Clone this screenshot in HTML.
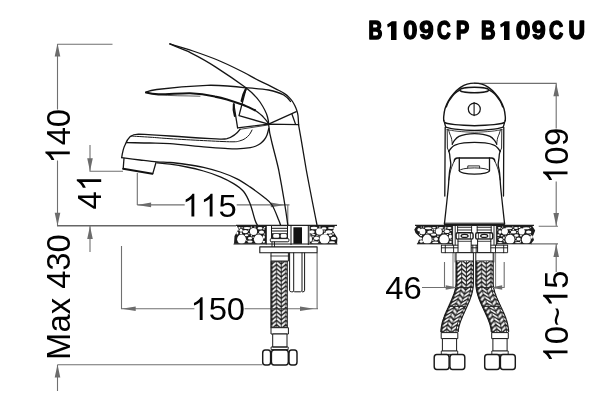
<!DOCTYPE html>
<html><head><meta charset="utf-8">
<style>
html,body{margin:0;padding:0;background:#fff;}
svg{display:block;position:absolute;left:0;top:0}
text{font-family:"Liberation Sans",sans-serif;fill:#000}
.d{stroke:#707070;stroke-width:1.1;fill:none}
.a{fill:#6c6c6c;stroke:none}
.k{stroke:#151515;stroke-width:1.3;fill:none;stroke-linecap:round;stroke-linejoin:round}
.k2{stroke:#111;stroke-width:2;fill:none;stroke-linecap:round;stroke-linejoin:round}
.w{stroke:#1a1a1a;stroke-width:1.2;fill:#fff;stroke-linejoin:round}
.t{stroke:#333;stroke-width:.8;fill:none}
.p{fill:#fff;stroke:none}
</style></head><body>
<svg width="600" height="418" viewBox="0 0 600 418">
<defs>
<mask id="mk" maskUnits="userSpaceOnUse" x="0" y="0" width="600" height="418"><rect width="600" height="418" fill="#fff"/></mask>
<path id="one" d="M763 0H583V1147Q518 1085 412.5 1023Q307 961 223 930V1104Q374 1175 487 1276Q600 1377 647 1472H763Z" transform="scale(0.015625 -0.015625)"/>
<pattern id="br" patternUnits="userSpaceOnUse" x="0" y="0" width="40" height="4.3"><rect width="40" height="4.3" fill="#1e1e1e"/><path d="M1.00 -4.70 L5.70 -8.60 L10.40 -4.70 L15.10 -8.60 L19.80 -4.70 L24.50 -8.60 L29.20 -4.70M1.00 -0.40 L5.70 -4.30 L10.40 -0.40 L15.10 -4.30 L19.80 -0.40 L24.50 -4.30 L29.20 -0.40M1.00 3.90 L5.70 0.00 L10.40 3.90 L15.10 0.00 L19.80 3.90 L24.50 0.00 L29.20 3.90M1.00 8.20 L5.70 4.30 L10.40 8.20 L15.10 4.30 L19.80 8.20 L24.50 4.30 L29.20 8.20M1.00 12.50 L5.70 8.60 L10.40 12.50 L15.10 8.60 L19.80 12.50 L24.50 8.60 L29.20 12.50" stroke="#fafafa" stroke-width="1.9" fill="none" stroke-linejoin="miter"/><path d="M1.00 -1V6M5.70 -1V6M10.40 -1V6M15.10 -1V6M19.80 -1V6M24.50 -1V6M29.20 -1V6M33.90 -1V6" stroke="#151515" stroke-width=".8" fill="none"/></pattern>
</defs>
<rect width="600" height="418" fill="#fff"/>

<g mask="url(#mk)"><text transform="translate(368.62 39.1) scale(0.700 0.92)" font-size="27.4" font-weight="bold" stroke="#000" stroke-width="1.8" stroke-linejoin="round">B</text><path d="M391.0 21.3h5.5v18.6h-5.5v-14.2l-3.2 1.7l-.7-2.8l4.8-3.3z" fill="#000"/><text transform="translate(403.19 39.1) scale(0.929 0.92)" font-size="27.4" font-weight="bold" stroke="#000" stroke-width="1.4" stroke-linejoin="round">0</text><text transform="translate(419.30 39.1) scale(0.949 0.92)" font-size="27.4" font-weight="bold" stroke="#000" stroke-width="1.4" stroke-linejoin="round">9</text><text transform="translate(437.02 39.1) scale(0.692 0.92)" font-size="27.4" font-weight="bold" stroke="#000" stroke-width="1.6" stroke-linejoin="round">C</text><text transform="translate(456.08 39.1) scale(0.722 0.92)" font-size="27.4" font-weight="bold" stroke="#000" stroke-width="1.8" stroke-linejoin="round">P</text><text transform="translate(481.06 39.1) scale(0.730 0.92)" font-size="27.4" font-weight="bold" stroke="#000" stroke-width="1.8" stroke-linejoin="round">B</text><path d="M504.0 21.3h5.5v18.6h-5.5v-14.2l-3.2 1.7l-.7-2.8l4.8-3.3z" fill="#000"/><text transform="translate(515.65 39.1) scale(0.967 0.92)" font-size="27.4" font-weight="bold" stroke="#000" stroke-width="1.4" stroke-linejoin="round">0</text><text transform="translate(531.83 39.1) scale(0.912 0.92)" font-size="27.4" font-weight="bold" stroke="#000" stroke-width="1.4" stroke-linejoin="round">9</text><text transform="translate(548.99 39.1) scale(0.720 0.92)" font-size="27.4" font-weight="bold" stroke="#000" stroke-width="1.6" stroke-linejoin="round">C</text><text transform="translate(568.53 39.1) scale(0.832 0.92)" font-size="27.4" font-weight="bold" stroke="#000" stroke-width="1.8" stroke-linejoin="round">U</text></g>
<g id="dims">
<path class="d" d="M57.5 44.2H112.5M57.5 44.2V109.5M57.5 160.5V225.8"/>
<path class="d" d="M90 145V171.3H123M137.3 173V204.9M137.3 204.9H184.7M236.7 204.9H289.5M287.8 204.9V225"/>
<path class="d" d="M90 226V252M121.5 246V308.8H194.4M244.5 308.8H318M317.1 253V308.8"/>
<path class="d" d="M57.5 364.8H262.5M57.5 364.8V391"/>
<path class="d" d="M474 83.4H556.2V128.5M556.2 181.5V226.3M538.7 226.3H558M531 243.9H558M556.2 244V272"/>
<path class="a" d="M57.5 43.6l-2.8 13.0h5.6zM57.5 225.8l-2.8 -13.0h5.6zM90.0 171.3l-2.8 -13.0h5.6zM137.1 204.9l14.0 -2.3v4.6zM284.8 204.9l-14.0 -2.3v4.6zM90.0 226.0l-2.8 13.0h5.6zM121.7 308.8l14.0 -2.3v4.6zM314.0 308.8l-14.0 -2.3v4.6zM57.5 364.6l-2.8 13.0h5.6zM556.2 83.2l-2.8 13.0h5.6zM556.2 226.1l-2.8 -13.0h5.6zM556.2 244.1l-2.8 13.0h5.6z"/>
</g>
<g id="side"><path d="M57 225.7H236" stroke="#666" stroke-width="1.5" fill="none"/><path d="M236 225.3H337" stroke="#222" stroke-width="1.3" fill="none"/><path class="k" d="M169.8 43.9C173.7 45.1 185.1 48.3 193.0 51.0C200.9 53.7 209.7 56.8 217.5 60.0C225.3 63.2 233.2 67.1 240.0 70.5C246.8 73.9 253.5 77.8 258.5 80.3C263.5 82.8 266.6 84.1 270.0 85.8C273.4 87.5 276.2 88.9 278.6 90.2C281.0 91.5 282.7 92.4 284.5 93.6C286.3 94.8 288.0 96.3 289.3 97.6C290.6 98.9 291.6 100.1 292.5 101.5C293.4 102.9 294.2 104.3 294.9 105.8C295.6 107.3 296.3 108.9 296.8 110.5C297.3 112.1 297.7 113.1 298.0 115.5C298.3 117.9 298.5 123.4 298.6 125.0"/><path class="k" d="M169.8 43.9C180 48.5 186 50.5 190.3 52.6C200 57.5 208 62 215.4 66.9C228 75 238 82 246 87.8C252 92.5 256.5 97 260 102C264 108 266.5 113 267.5 117C268.3 120 268.6 122 268.6 123.6"/><path class="k" d="M145.9 92C150 90.6 153 90 156.8 89.5C172 87.4 190 85.8 207 85.3C222 85 236 86.5 246 87.8C255 88.5 262 89 268.6 90C275 91.3 280 93 283.7 95C287 97 289 99 290.5 101.5"/><path class="k2" d="M146 92.6C150 93.6 154 94.2 158.4 94.4C170 94.3 180 93.2 190 93.3C200 93.6 208 95 215 96.6C220 97.6 224 98.6 227 99.4C233 101.3 238 103 243.5 105C248 107 252 108.7 255 110.3" style="stroke-width:2.1"/><path class="k" d="M255 110.3C259 113 262 115.5 263.6 117.4C266 120 267.6 122 268.6 123.6"/><path class="k" d="M158 94.5C170 96.2 185 95.6 200 96.2" style="stroke-width:.7"/><path class="k" d="M246.2 88L239 115.6L268.6 124.2L296.3 111.7"/><path class="k2" d="M245.6 89.5C243.6 93 242.4 97 241.6 101" style="stroke-width:2.2"/><path class="k2" d="M233.8 104.2C233.2 108 233.6 112 234.8 116" style="stroke-width:2"/><path class="k" d="M233.8 104L237.6 127.8"/><path class="k" d="M237.6 127.8L268.6 124.2L298.6 124.6"/><path class="k" d="M240 129.3L268 125" style="stroke-width:.8"/><path class="k" d="M292 114.2L295.6 124.4"/><path class="k" d="M298.6 125C301.3 140 304 156 306.3 170C310 190 314 210 317 225"/><path class="k" d="M268.6 124.3C269 130 270 136 272 143C275 155 277.5 164 278.7 170C281 182 284.5 200 287.8 225"/><path class="k" d="M121.7 157.7C122.5 152 123.5 148 125 145C126.5 141 128 138.5 130 136.7C132.5 134.8 135 134.2 138.4 134.2C150 134.6 160 135.3 170 136C190 137.5 205 138.3 220 139.2C224 139.3 226 139 227 138.7C232 137 237 133.5 240 129.3"/><path class="k" d="M131.0 136.0C134.2 136.2 143.5 136.8 150.0 137.2C156.5 137.6 161.1 138.1 170.0 138.7C178.9 139.3 193.2 140.1 203.5 140.6C213.8 141.1 225.9 141.8 232.0 141.8C238.1 141.8 237.8 141.4 240.0 140.8C242.2 140.2 243.8 139.5 245.4 138.4C247.0 137.3 248.4 135.9 249.5 134.5C250.6 133.1 251.6 130.8 252.0 130.0" style="stroke-width:1"/><path class="k" d="M126.7 142.6C130.6 142.7 142.8 142.8 150.0 143.0C157.2 143.2 161.1 143.1 170.0 143.7C178.9 144.3 194.3 146.0 203.5 146.8C212.7 147.6 219.4 148.1 225.0 148.4C230.6 148.7 232.8 148.9 237.0 148.8C241.2 148.7 247.2 148.1 250.4 147.6C253.6 147.1 254.3 146.7 256.0 146.0C257.7 145.3 259.1 144.6 260.5 143.5C261.9 142.4 263.4 140.9 264.5 139.5C265.6 138.1 266.3 136.8 267.0 135.0C267.7 133.2 268.5 129.5 268.8 128.4"/><path class="k" d="M121.7 157.7C124.8 158.1 134.2 159.3 140.0 160.0C145.8 160.7 151.8 161.5 156.8 161.9C161.8 162.3 165.0 162.1 170.0 162.5C175.0 162.9 181.2 163.7 186.8 164.5C192.4 165.3 197.9 166.1 203.5 167.3C209.1 168.6 214.7 170.1 220.3 172.0C225.9 173.9 232.1 176.3 237.0 178.8C241.9 181.3 245.6 183.9 250.0 186.9C254.4 189.9 260.0 194.0 263.7 197.0C267.4 200.0 269.5 201.2 272.0 205.0C274.5 208.8 277.3 216.7 278.7 220.0C280.1 223.3 280.2 224.2 280.5 225.0"/><path class="k" d="M157.0 162.8C159.2 163.0 165.0 163.5 170.0 164.2C175.0 164.9 181.2 165.9 186.8 167.0C192.4 168.1 197.9 169.4 203.5 171.0C209.1 172.6 215.3 174.7 220.3 176.8C225.3 178.9 229.7 181.2 233.6 183.6C237.5 186.0 240.9 188.2 243.6 191.5C246.3 194.8 248.1 198.8 250.0 203.6C251.9 208.3 253.8 216.4 255.0 220.0C256.2 223.6 256.9 224.2 257.3 225.0"/><path class="k" d="M124 158.3L123.2 168.8M156 162.5L152.8 173.6"/><path class="k2" d="M123.2 168.8L152.4 173.8" style="stroke-width:1.9"/><path d="M236.5 225.5L238.5 229L234.5 236L234 243.8H266V225.5Z" fill="#1c1c1c"/><ellipse class="p" cx="241.5" cy="239.2" rx="4.4" ry="4.6"/><ellipse class="p" cx="258.5" cy="239.2" rx="4.6" ry="4.6"/><ellipse class="p" cx="253.5" cy="231.4" rx="3.6" ry="3.5"/><ellipse class="p" cx="245.3" cy="231.6" rx="2.8" ry="1.7"/><ellipse class="p" cx="241.0" cy="230.3" rx="1.5" ry="1.5"/><ellipse class="p" cx="247.0" cy="228.0" rx="3.4" ry="1.0"/><ellipse class="p" cx="260.0" cy="228.3" rx="2.5" ry="1.2"/><ellipse class="p" cx="261.5" cy="232.2" rx="2.6" ry="1.6"/><ellipse class="p" cx="250.0" cy="238.3" rx="2.1" ry="1.3"/><ellipse class="p" cx="250.0" cy="241.6" rx="2.6" ry="1.2"/><ellipse class="p" cx="239.5" cy="227.8" rx="1.1" ry="0.9"/><ellipse class="p" cx="263.8" cy="237.0" rx="1.1" ry="1.7"/><ellipse class="p" cx="237.3" cy="233.0" rx="1.0" ry="1.5"/><ellipse class="p" cx="246.5" cy="235.2" rx="1.8" ry="1.0"/><ellipse class="p" cx="263.8" cy="241.8" rx="1.3" ry="1.1"/><ellipse class="p" cx="263.9" cy="228.9" rx="1.0" ry="0.6"/><ellipse class="p" cx="241.0" cy="233.2" rx="1.1" ry="0.9"/><ellipse class="p" cx="248.9" cy="233.7" rx="0.7" ry="0.7"/><ellipse class="p" cx="248.4" cy="230.0" rx="0.6" ry="0.5"/><ellipse class="p" cx="264.6" cy="227.4" rx="0.8" ry="0.5"/><ellipse class="p" cx="251.4" cy="235.7" rx="0.6" ry="0.7"/><ellipse class="p" cx="238.2" cy="229.9" rx="0.6" ry="0.7"/><ellipse class="p" cx="264.5" cy="234.0" rx="0.8" ry="0.5"/><ellipse class="p" cx="255.0" cy="227.1" rx="0.9" ry="0.5"/><ellipse class="p" cx="253.1" cy="237.2" rx="0.6" ry="0.7"/><ellipse class="p" cx="246.8" cy="240.3" rx="0.6" ry="0.5"/><ellipse class="p" cx="242.1" cy="227.8" rx="0.9" ry="0.5"/><ellipse class="p" cx="251.4" cy="227.1" rx="0.8" ry="0.6"/><ellipse class="p" cx="258.2" cy="233.4" rx="0.5" ry="0.5"/><path d="M309.5 225.5H335L333 231L337.5 238L337 243.8H309.5Z" fill="#1c1c1c"/><ellipse class="p" cx="324.5" cy="239.0" rx="5.0" ry="4.8"/><ellipse class="p" cx="319.5" cy="231.5" rx="3.4" ry="3.2"/><ellipse class="p" cx="314.0" cy="228.0" rx="3.4" ry="1.3"/><ellipse class="p" cx="312.0" cy="232.0" rx="2.7" ry="1.7"/><ellipse class="p" cx="316.5" cy="238.3" rx="2.7" ry="1.7"/><ellipse class="p" cx="310.8" cy="239.0" rx="1.2" ry="3.1"/><ellipse class="p" cx="315.0" cy="242.4" rx="3.4" ry="1.1"/><ellipse class="p" cx="324.0" cy="228.4" rx="2.5" ry="1.2"/><ellipse class="p" cx="329.0" cy="232.0" rx="3.4" ry="1.7"/><ellipse class="p" cx="331.0" cy="228.0" rx="3.1" ry="1.1"/><ellipse class="p" cx="333.5" cy="238.4" rx="2.7" ry="1.7"/><ellipse class="p" cx="332.0" cy="242.3" rx="3.1" ry="1.0"/><ellipse class="p" cx="325.5" cy="233.5" rx="1.7" ry="1.0"/><ellipse class="p" cx="330.5" cy="235.3" rx="1.7" ry="1.0"/><ellipse class="p" cx="313.0" cy="236.7" rx="0.8" ry="0.7"/><ellipse class="p" cx="333.0" cy="233.9" rx="0.8" ry="0.9"/><ellipse class="p" cx="313.6" cy="234.7" rx="1.7" ry="0.6"/><ellipse class="p" cx="324.2" cy="231.0" rx="0.7" ry="0.8"/><ellipse class="p" cx="310.8" cy="234.9" rx="0.6" ry="0.5"/><ellipse class="p" cx="317.1" cy="235.2" rx="0.8" ry="0.5"/><ellipse class="p" cx="319.9" cy="227.0" rx="1.0" ry="0.5"/><ellipse class="p" cx="333.2" cy="230.7" rx="0.8" ry="0.5"/><ellipse class="p" cx="313.4" cy="240.2" rx="0.9" ry="0.6"/><ellipse class="p" cx="318.7" cy="241.2" rx="0.5" ry="0.5"/><ellipse class="p" cx="319.0" cy="236.0" rx="0.5" ry="0.5"/><path class="k" d="M234 244H337" style="stroke-width:1.1"/><path class="k" d="M266.3 225.5V244M291 225.5V244.5M308.3 225.5V244.5" style="stroke-width:1"/><rect x="293.4" y="227.3" width="8.6" height="16.5" fill="#111"/><rect class="w" x="271.5" y="225.6" width="16" height="13" style="stroke-width:1"/><path class="k" d="M271.5 228.3H287.5M271.5 231H287.5" style="stroke-width:1"/><rect x="271.5" y="233.2" width="16" height="5.4" fill="#222"/><rect x="273.2" y="234.1" width="6" height="3.6" rx="1.3" fill="#fff"/><rect x="280.7" y="234.1" width="6" height="3.6" rx="1.3" fill="#fff"/><rect class="w" x="270.3" y="238.6" width="18.6" height="3.2" rx="1" style="stroke-width:1"/><path class="k" d="M272 242V247M274.5 242V247" style="stroke-width:.9"/><rect class="w" x="259.8" y="246.9" width="57.3" height="5.9" style="stroke-width:1.1"/><path class="k" d="M289.6 253V290.5Q289.8 291.8 291.5 291.8H293Q293.8 290.3 294.6 291.8H300.5Q301.3 290.3 302.1 291.8H303Q304.6 291.8 304.6 290.3V253M293.7 253V290.5M302 253V290.5" style="stroke-width:1"/><rect class="w" x="271" y="252.8" width="17.4" height="8.3" style="stroke-width:1"/><path class="k" d="M271 256H288.4" style="stroke-width:.8"/><g transform="translate(270.8 0)"><rect x="0" y="261.3" width="16.6" height="66.4" fill="url(#br)" stroke="#222" stroke-width="0.8"/></g><path d="M270.8 308.8H287.4" stroke="#333" stroke-width="1" fill="none"/><rect class="w" x="271" y="327.7" width="17.4" height="6.3" style="stroke-width:1"/><rect class="w" x="272.7" y="334" width="14.3" height="13" style="stroke-width:1"/><path class="k" d="M271.5 347H288.2V349.6H271.5Z" style="stroke-width:.9"/><rect class="w" x="262.7" y="350.0" width="7.9" height="14.9" rx="2.6" ry="3" style="stroke-width:1.45"/><rect class="w" x="271.4" y="350.0" width="16.9" height="14.9" rx="2.6" ry="3" style="stroke-width:1.45"/><rect class="w" x="289.0" y="350.0" width="8.0" height="14.9" rx="2.6" ry="3" style="stroke-width:1.45"/></g><g id="front"><path class="k" d="M443.8 120.5C443.8 119.9 443.5 118.9 443.7 116.9C443.9 115.0 444.2 111.5 445.0 108.8C445.8 106.1 446.9 103.4 448.4 100.8C449.9 98.2 451.8 95.6 453.8 93.4C455.8 91.2 458.3 89.0 460.5 87.4C462.7 85.9 464.9 84.8 467.2 84.1C469.5 83.4 472.1 83.1 474.5 83.1C476.9 83.1 479.5 83.4 481.8 84.1C484.1 84.8 486.3 85.9 488.5 87.4C490.7 89.0 493.2 91.2 495.2 93.4C497.2 95.6 499.1 98.2 500.6 100.8C502.1 103.4 503.2 106.1 504.0 108.8C504.8 111.5 505.1 115.0 505.3 116.9C505.5 118.9 505.2 119.9 505.2 120.5" style="stroke-width:1.4"/><path class="k" d="M443.8 120.5C443.9 120.8 444.0 121.9 444.6 122.4C445.2 122.9 445.8 123.1 447.5 123.5C449.2 123.9 452.2 124.3 455.0 124.6C457.8 124.9 460.8 125.1 464.0 125.3C467.2 125.5 471.0 125.7 474.5 125.7C478.0 125.7 481.8 125.5 485.0 125.3C488.2 125.1 491.2 124.9 494.0 124.6C496.8 124.3 499.8 123.9 501.5 123.5C503.2 123.1 503.8 122.9 504.4 122.4C505.0 121.9 505.1 120.8 505.2 120.5" style="stroke-width:1.4"/><path class="k" d="M446.4 106.8C446.7 106.0 447.6 103.5 448.4 102.0C449.2 100.5 450.1 99.4 451.0 98.1C451.9 96.8 453.0 95.4 454.0 94.3C455.0 93.2 456.1 92.3 457.1 91.6C458.1 90.9 459.5 90.3 460.0 90.0"/><path class="k" d="M502.6 106.8C502.3 106.0 501.4 103.5 500.6 102.0C499.8 100.5 498.9 99.4 498.0 98.1C497.1 96.8 496.0 95.4 495.0 94.3C494.0 93.2 492.9 92.3 491.9 91.6C490.9 90.9 489.5 90.3 489.0 90.0"/><ellipse class="k" cx="474.3" cy="90" rx="14.5" ry="2.8" style="stroke-width:1.4"/><circle class="k" cx="474.3" cy="109.1" r="6" style="stroke-width:1.25"/><path class="k" d="M474.1 102.6V115.6" style="stroke-width:1.1"/><path class="k" d="M444.6 123L445.7 127.2M504.4 123L503.3 127.2"/><path class="k" d="M446.0 127.2C447.5 127.5 450.2 128.7 455.0 129.2C459.8 129.7 468.0 130.4 474.5 130.4C481.0 130.4 489.2 129.7 494.0 129.2C498.8 128.7 501.5 127.5 503.0 127.2"/><path class="k" d="M447.0 129.6C448.8 129.9 453.4 130.9 458.0 131.3C462.6 131.7 469.0 132.2 474.5 132.2C480.0 132.2 486.4 131.7 491.0 131.3C495.6 130.9 500.2 129.9 502.0 129.6" style="stroke-width:.8"/><path class="k" d="M445.2 127.5L444.8 196M503.8 127.5L503.5 196"/><path class="k" d="M447.2 129.5L447.4 148L448.8 151.3M501.8 129.5L501.6 148L500.2 151.3" style="stroke-width:.9"/><path class="k" d="M448.6 129.8C448.8 130.5 449.3 132.6 449.8 134.0C450.3 135.4 451.0 136.3 451.4 138.0C451.8 139.7 452.2 143.2 452.4 144.2" style="stroke-width:.9"/><path class="k" d="M500.4 129.8C500.2 130.5 499.7 132.6 499.2 134.0C498.7 135.4 498.0 136.3 497.6 138.0C497.2 139.7 496.8 143.2 496.6 144.2" style="stroke-width:.9"/><path class="k" d="M452.2 144.2C452.6 143.5 453.4 141.6 454.5 140.3C455.6 139.0 457.1 137.4 459.0 136.4C460.9 135.4 463.4 134.8 466.0 134.3C468.6 133.9 471.7 133.7 474.5 133.7C477.3 133.7 480.4 133.9 483.0 134.3C485.6 134.8 488.1 135.4 490.0 136.4C491.9 137.4 493.4 139.0 494.5 140.3C495.6 141.6 496.4 143.5 496.8 144.2"/><path class="k" d="M448.8 151.3C449.2 150.8 450.3 149.0 451.3 148.0C452.3 147.0 452.9 145.9 455.0 145.1C457.1 144.2 460.8 143.3 464.0 142.9C467.2 142.5 471.0 142.4 474.5 142.4C478.0 142.4 481.8 142.5 485.0 142.9C488.2 143.3 491.9 144.2 494.0 145.1C496.1 145.9 496.7 147.0 497.7 148.0C498.7 149.0 499.8 150.8 500.2 151.3"/><path class="k" d="M448.8 151.3C448.9 151.8 449.4 152.9 449.6 154.0C449.8 155.1 449.8 156.2 450.0 158.0C450.2 159.8 450.9 162.7 450.8 165.0C450.7 167.3 449.9 168.7 449.5 172.0C449.1 175.3 448.9 180.0 448.5 185.0C448.1 190.0 447.4 196.4 446.8 202.0C446.2 207.6 445.4 214.9 445.0 218.6C444.6 222.3 444.5 223.1 444.4 224.0"/><path class="k" d="M500.2 151.3C500.1 151.8 499.6 152.9 499.4 154.0C499.2 155.1 499.2 156.2 499.0 158.0C498.8 159.8 498.1 162.7 498.2 165.0C498.3 167.3 499.1 168.7 499.5 172.0C499.9 175.3 500.1 180.0 500.5 185.0C500.9 190.0 501.6 196.4 502.2 202.0C502.8 207.6 503.6 214.9 504.0 218.6C504.4 222.3 504.5 223.1 504.6 224.0"/><path class="k" d="M454.2 161Q454.4 158.1 457.5 158H491.5Q494.6 158.1 494.8 161"/><path class="k" d="M459.3 158V170.5M489.5 158V170.5"/><path class="k" d="M459.3 170.5A15.1 3.6 0 0 0 489.5 170.5"/><path class="k" d="M459.3 170.5A15.1 2.6 0 0 1 489.5 170.5" style="stroke-width:.9"/><path class="k" d="M467.8 168V165.9H479.6V168" style="stroke-width:.9"/><path class="k" d="M455.0 159.4C454.6 160.3 453.2 163.1 452.5 165.0C451.8 166.9 451.1 168.5 450.5 171.0C449.9 173.5 449.1 178.5 448.8 180.0" style="stroke-width:.9"/><path class="k" d="M494.0 159.4C494.4 160.3 495.8 163.1 496.5 165.0C497.2 166.9 497.9 168.5 498.5 171.0C499.1 173.5 499.9 178.5 500.2 180.0" style="stroke-width:.9"/><path class="k" d="M444.3 223.2H504.7" style="stroke-width:.9"/><path d="M415 225.3H534" stroke="#222" stroke-width="1.3" fill="none"/><path d="M444 224.6H504.8" stroke="#1a1a1a" stroke-width="1.8" fill="none"/><path d="M417 225.5L414.3 229.5L415.5 233L420 237.2L417.3 243.8H452.5V225.5Z" fill="#1c1c1c"/><ellipse class="p" cx="427.2" cy="239.4" rx="4.5" ry="4.8"/><ellipse class="p" cx="444.1" cy="239.4" rx="4.7" ry="4.8"/><ellipse class="p" cx="422.5" cy="231.4" rx="2.9" ry="2.9"/><ellipse class="p" cx="438.8" cy="231.4" rx="3.1" ry="3.1"/><ellipse class="p" cx="430.0" cy="232.0" rx="2.8" ry="1.5"/><ellipse class="p" cx="433.6" cy="234.6" rx="2.6" ry="1.2"/><ellipse class="p" cx="436.0" cy="239.0" rx="2.0" ry="1.7"/><ellipse class="p" cx="447.0" cy="231.4" rx="2.7" ry="1.6"/><ellipse class="p" cx="449.3" cy="228.0" rx="2.2" ry="1.0"/><ellipse class="p" cx="428.3" cy="228.3" rx="3.4" ry="1.0"/><ellipse class="p" cx="419.0" cy="229.7" rx="1.6" ry="1.6"/><ellipse class="p" cx="450.3" cy="236.7" rx="1.5" ry="2.1"/><ellipse class="p" cx="435.3" cy="242.4" rx="3.1" ry="1.0"/><ellipse class="p" cx="421.3" cy="241.5" rx="1.7" ry="1.3"/><ellipse class="p" cx="441.0" cy="227.8" rx="2.5" ry="0.9"/><ellipse class="p" cx="450.5" cy="242.0" rx="1.3" ry="1.1"/><ellipse class="p" cx="420.4" cy="238.5" rx="1.7" ry="1.2"/><ellipse class="p" cx="434.5" cy="229.7" rx="1.1" ry="0.7"/><ellipse class="p" cx="445.4" cy="228.9" rx="1.0" ry="0.7"/><ellipse class="p" cx="450.2" cy="233.3" rx="1.0" ry="0.6"/><ellipse class="p" cx="437.9" cy="236.3" rx="0.8" ry="0.8"/><ellipse class="p" cx="443.3" cy="230.0" rx="0.9" ry="0.8"/><ellipse class="p" cx="421.0" cy="235.5" rx="1.2" ry="0.7"/><ellipse class="p" cx="434.0" cy="227.7" rx="1.9" ry="0.7"/><ellipse class="p" cx="443.2" cy="232.8" rx="0.7" ry="0.7"/><ellipse class="p" cx="421.3" cy="227.0" rx="0.6" ry="0.5"/><ellipse class="p" cx="432.9" cy="240.2" rx="0.7" ry="0.7"/><ellipse class="p" cx="419.5" cy="234.2" rx="0.5" ry="0.7"/><ellipse class="p" cx="426.9" cy="233.5" rx="0.6" ry="0.5"/><ellipse class="p" cx="423.6" cy="227.0" rx="0.8" ry="0.5"/><ellipse class="p" cx="433.0" cy="238.3" rx="0.5" ry="0.5"/><ellipse class="p" cx="432.4" cy="229.8" rx="0.5" ry="0.8"/><ellipse class="p" cx="434.6" cy="231.7" rx="0.5" ry="0.6"/><ellipse class="p" cx="451.0" cy="230.3" rx="0.8" ry="0.6"/><ellipse class="p" cx="447.5" cy="234.6" rx="0.9" ry="0.5"/><ellipse class="p" cx="437.4" cy="227.0" rx="0.5" ry="0.5"/><ellipse class="p" cx="445.7" cy="227.2" rx="1.0" ry="0.5"/><ellipse class="p" cx="451.0" cy="239.8" rx="0.7" ry="0.5"/><path d="M496.6 225.5H532L535.2 230.5L532.8 236.5L534 240L531 243.8H496.6Z" fill="#1c1c1c"/><ellipse class="p" cx="510.0" cy="239.4" rx="4.5" ry="4.7"/><ellipse class="p" cx="526.3" cy="239.4" rx="4.5" ry="4.7"/><ellipse class="p" cx="504.8" cy="231.4" rx="3.1" ry="3.1"/><ellipse class="p" cx="521.7" cy="231.4" rx="3.1" ry="3.1"/><ellipse class="p" cx="513.5" cy="232.0" rx="2.8" ry="1.5"/><ellipse class="p" cx="516.4" cy="235.5" rx="2.2" ry="1.2"/><ellipse class="p" cx="500.0" cy="232.0" rx="1.6" ry="1.7"/><ellipse class="p" cx="500.7" cy="239.6" rx="2.1" ry="1.7"/><ellipse class="p" cx="518.6" cy="239.0" rx="2.1" ry="1.5"/><ellipse class="p" cx="528.7" cy="232.0" rx="2.7" ry="1.6"/><ellipse class="p" cx="508.8" cy="228.3" rx="3.4" ry="1.0"/><ellipse class="p" cx="526.3" cy="228.3" rx="3.4" ry="1.0"/><ellipse class="p" cx="500.0" cy="242.8" rx="2.6" ry="0.9"/><ellipse class="p" cx="518.0" cy="242.8" rx="3.1" ry="0.9"/><ellipse class="p" cx="516.0" cy="228.0" rx="2.0" ry="0.9"/><ellipse class="p" cx="531.5" cy="237.0" rx="1.3" ry="1.8"/><ellipse class="p" cx="499.3" cy="227.8" rx="1.5" ry="0.9"/><ellipse class="p" cx="503.9" cy="237.7" rx="0.8" ry="1.3"/><ellipse class="p" cx="498.5" cy="235.1" rx="1.2" ry="0.9"/><ellipse class="p" cx="520.9" cy="235.8" rx="1.1" ry="0.7"/><ellipse class="p" cx="501.8" cy="235.8" rx="1.1" ry="0.8"/><ellipse class="p" cx="519.4" cy="227.4" rx="1.0" ry="0.6"/><ellipse class="p" cx="504.3" cy="241.8" rx="0.9" ry="0.5"/><ellipse class="p" cx="517.2" cy="230.2" rx="0.9" ry="0.5"/><ellipse class="p" cx="508.7" cy="233.5" rx="0.6" ry="0.6"/><ellipse class="p" cx="502.6" cy="227.1" rx="0.7" ry="0.5"/><ellipse class="p" cx="513.3" cy="229.4" rx="0.7" ry="0.6"/><ellipse class="p" cx="516.0" cy="240.7" rx="0.6" ry="0.8"/><ellipse class="p" cx="505.6" cy="235.9" rx="0.5" ry="0.5"/><ellipse class="p" cx="530.7" cy="227.6" rx="0.5" ry="0.7"/><ellipse class="p" cx="512.8" cy="227.0" rx="0.7" ry="0.5"/><ellipse class="p" cx="498.1" cy="237.7" rx="0.6" ry="0.5"/><ellipse class="p" cx="510.2" cy="230.6" rx="0.6" ry="0.5"/><ellipse class="p" cx="515.6" cy="237.9" rx="0.5" ry="0.6"/><ellipse class="p" cx="503.8" cy="240.3" rx="0.6" ry="0.5"/><ellipse class="p" cx="501.6" cy="228.6" rx="0.5" ry="0.6"/><ellipse class="p" cx="517.4" cy="232.7" rx="0.6" ry="0.5"/><ellipse class="p" cx="510.8" cy="233.8" rx="0.5" ry="0.5"/><ellipse class="p" cx="497.9" cy="229.9" rx="0.5" ry="0.7"/><ellipse class="p" cx="530.2" cy="234.4" rx="0.6" ry="0.5"/><ellipse class="p" cx="520.6" cy="241.2" rx="0.6" ry="0.7"/><path class="k" d="M417.3 243.8H452.5M496.6 243.8H531" style="stroke-width:1"/><path class="k" d="M452.6 225.5V245M455.2 225.5V245M494 225.5V245M496.4 225.5V245" style="stroke-width:.9"/><rect class="w" x="457.6" y="225.6" width="14.0" height="7" style="stroke-width:.9"/><path class="k" d="M457.6 227.3h14.0M457.6 230h14.0" style="stroke-width:.9"/><rect class="w" x="456.1" y="232.8" width="17.0" height="6.3" rx="1.6" style="stroke-width:1.4"/><ellipse cx="464.6" cy="235.9" rx="3.5" ry="1.5" fill="#fff" stroke="#1a1a1a" stroke-width="1.25"/><path class="k" d="M458.8 232.8v6.3M470.4 232.8v6.3" style="stroke-width:.8"/><rect class="w" x="458.0" y="239.1" width="13.2" height="13.6" style="stroke-width:1"/><path class="k" d="M458.0 241.3h13.2" style="stroke-width:.8"/><rect class="w" x="477.2" y="225.6" width="14.0" height="7" style="stroke-width:.9"/><path class="k" d="M477.2 227.3h14.0M477.2 230h14.0" style="stroke-width:.9"/><rect class="w" x="475.7" y="232.8" width="17.0" height="6.3" rx="1.6" style="stroke-width:1.4"/><ellipse cx="484.2" cy="235.9" rx="3.5" ry="1.5" fill="#fff" stroke="#1a1a1a" stroke-width="1.25"/><path class="k" d="M478.4 232.8v6.3M490.0 232.8v6.3" style="stroke-width:.8"/><rect class="w" x="477.6" y="239.1" width="13.2" height="13.6" style="stroke-width:1"/><path class="k" d="M477.6 241.3h13.2" style="stroke-width:.8"/><path class="k" d="M441.4 245.2H457.8M471.5 245.2H477.5M491 245.2H507.6M441.4 245.2V252.7H507.6V245.2M441.4 247.8H457.8M471.5 247.8H477.5M491 247.8H507.6M445.3 245.2V252.7M453.6 245.2V252.7M472.8 245.2V252.7M476.2 245.2V252.7M495.5 245.2V252.7M503.7 245.2V252.7" style="stroke-width:.9"/><path class="k" d="M453 252.7V288M455 252.7V262M494 252.7V262M495.6 252.7V288" style="stroke-width:.7;stroke:#444"/><rect class="w" x="456.0" y="252.7" width="17.4" height="8.3" style="stroke-width:1"/><rect x="0" y="261.0" width="17.40" height="22.3" fill="url(#br)" transform="translate(456.00 0)"/><rect x="0" y="283.0" width="17.40" height="1.25" fill="url(#br)" transform="translate(455.99 0) scale(1.000 1)"/><rect x="0" y="284.0" width="17.40" height="1.25" fill="url(#br)" transform="translate(455.95 0) scale(1.001 1)"/><rect x="0" y="285.0" width="17.40" height="1.25" fill="url(#br)" transform="translate(455.87 0) scale(1.002 1)"/><rect x="0" y="286.0" width="17.40" height="1.25" fill="url(#br)" transform="translate(455.75 0) scale(1.004 1)"/><rect x="0" y="287.0" width="17.40" height="1.25" fill="url(#br)" transform="translate(455.59 0) scale(1.007 1)"/><rect x="0" y="288.0" width="17.40" height="1.25" fill="url(#br)" transform="translate(455.41 0) scale(1.010 1)"/><rect x="0" y="289.0" width="17.40" height="1.25" fill="url(#br)" transform="translate(455.19 0) scale(1.013 1)"/><rect x="0" y="290.0" width="17.40" height="1.25" fill="url(#br)" transform="translate(454.94 0) scale(1.016 1)"/><rect x="0" y="291.0" width="17.40" height="1.25" fill="url(#br)" transform="translate(454.66 0) scale(1.020 1)"/><rect x="0" y="292.0" width="17.40" height="1.25" fill="url(#br)" transform="translate(454.36 0) scale(1.024 1)"/><rect x="0" y="293.0" width="17.40" height="1.25" fill="url(#br)" transform="translate(454.03 0) scale(1.027 1)"/><rect x="0" y="294.0" width="17.40" height="1.25" fill="url(#br)" transform="translate(453.69 0) scale(1.031 1)"/><rect x="0" y="295.0" width="17.40" height="1.25" fill="url(#br)" transform="translate(453.32 0) scale(1.035 1)"/><rect x="0" y="296.0" width="17.40" height="1.25" fill="url(#br)" transform="translate(452.94 0) scale(1.039 1)"/><rect x="0" y="297.0" width="17.40" height="1.25" fill="url(#br)" transform="translate(452.54 0) scale(1.042 1)"/><rect x="0" y="298.0" width="17.40" height="1.25" fill="url(#br)" transform="translate(452.13 0) scale(1.046 1)"/><rect x="0" y="299.0" width="17.40" height="1.25" fill="url(#br)" transform="translate(451.70 0) scale(1.049 1)"/><rect x="0" y="300.0" width="17.40" height="1.25" fill="url(#br)" transform="translate(451.27 0) scale(1.052 1)"/><rect x="0" y="301.0" width="17.40" height="1.25" fill="url(#br)" transform="translate(450.83 0) scale(1.054 1)"/><rect x="0" y="302.0" width="17.40" height="1.25" fill="url(#br)" transform="translate(450.38 0) scale(1.056 1)"/><rect x="0" y="303.0" width="17.40" height="1.25" fill="url(#br)" transform="translate(449.92 0) scale(1.058 1)"/><rect x="0" y="304.0" width="17.40" height="1.25" fill="url(#br)" transform="translate(449.46 0) scale(1.060 1)"/><rect x="0" y="305.0" width="17.40" height="1.25" fill="url(#br)" transform="translate(449.00 0) scale(1.061 1)"/><rect x="0" y="306.0" width="17.40" height="1.25" fill="url(#br)" transform="translate(448.54 0) scale(1.062 1)"/><rect x="0" y="307.0" width="17.40" height="1.25" fill="url(#br)" transform="translate(448.09 0) scale(1.062 1)"/><rect x="0" y="308.0" width="17.40" height="1.25" fill="url(#br)" transform="translate(447.63 0) scale(1.062 1)"/><rect x="0" y="309.0" width="17.40" height="1.25" fill="url(#br)" transform="translate(447.18 0) scale(1.062 1)"/><rect x="0" y="310.0" width="17.40" height="1.25" fill="url(#br)" transform="translate(446.73 0) scale(1.061 1)"/><rect x="0" y="311.0" width="17.40" height="1.25" fill="url(#br)" transform="translate(446.29 0) scale(1.060 1)"/><rect x="0" y="312.0" width="17.40" height="1.25" fill="url(#br)" transform="translate(445.86 0) scale(1.058 1)"/><rect x="0" y="313.0" width="17.40" height="1.25" fill="url(#br)" transform="translate(445.44 0) scale(1.056 1)"/><rect x="0" y="314.0" width="17.40" height="1.25" fill="url(#br)" transform="translate(445.03 0) scale(1.054 1)"/><rect x="0" y="315.0" width="17.40" height="1.25" fill="url(#br)" transform="translate(444.63 0) scale(1.052 1)"/><rect x="0" y="316.0" width="17.40" height="1.25" fill="url(#br)" transform="translate(444.25 0) scale(1.049 1)"/><rect x="0" y="317.0" width="17.40" height="1.25" fill="url(#br)" transform="translate(443.88 0) scale(1.046 1)"/><rect x="0" y="318.0" width="17.40" height="1.25" fill="url(#br)" transform="translate(443.53 0) scale(1.042 1)"/><rect x="0" y="319.0" width="17.40" height="1.25" fill="url(#br)" transform="translate(443.19 0) scale(1.039 1)"/><rect x="0" y="320.0" width="17.40" height="1.25" fill="url(#br)" transform="translate(442.87 0) scale(1.035 1)"/><rect x="0" y="321.0" width="17.40" height="1.25" fill="url(#br)" transform="translate(442.57 0) scale(1.031 1)"/><rect x="0" y="322.0" width="17.40" height="1.25" fill="url(#br)" transform="translate(442.29 0) scale(1.027 1)"/><rect x="0" y="323.0" width="17.40" height="1.25" fill="url(#br)" transform="translate(442.03 0) scale(1.024 1)"/><rect x="0" y="324.0" width="17.40" height="1.25" fill="url(#br)" transform="translate(441.80 0) scale(1.020 1)"/><rect x="0" y="325.0" width="17.40" height="1.25" fill="url(#br)" transform="translate(441.58 0) scale(1.016 1)"/><rect x="0" y="326.0" width="17.40" height="1.25" fill="url(#br)" transform="translate(441.39 0) scale(1.013 1)"/><rect x="0" y="327.0" width="17.40" height="1.25" fill="url(#br)" transform="translate(441.23 0) scale(1.010 1)"/><rect x="0" y="328.0" width="17.40" height="1.25" fill="url(#br)" transform="translate(441.09 0) scale(1.007 1)"/><rect x="0" y="329.0" width="17.40" height="1.25" fill="url(#br)" transform="translate(440.98 0) scale(1.004 1)"/><rect x="0" y="330.0" width="17.40" height="1.25" fill="url(#br)" transform="translate(440.89 0) scale(1.002 1)"/><rect x="0" y="331.0" width="17.40" height="1.25" fill="url(#br)" transform="translate(440.83 0) scale(1.001 1)"/><rect x="0" y="332.0" width="17.40" height="0.60" fill="url(#br)" transform="translate(440.80 0) scale(1.000 1)"/><path d="M456.0 261.0 L456.0 262.0 L456.0 263.0 L456.0 264.0 L456.0 265.0 L456.0 266.0 L456.0 267.0 L456.0 268.0 L456.0 269.0 L456.0 270.0 L456.0 271.0 L456.0 272.0 L456.0 273.0 L456.0 274.0 L456.0 275.0 L456.0 276.0 L456.0 277.0 L456.0 278.0 L456.0 279.0 L456.0 280.0 L456.0 281.0 L456.0 282.0 L456.0 283.0 L456.0 284.0 L455.9 285.0 L455.8 286.0 L455.7 287.0 L455.5 288.0 L455.3 289.0 L455.1 290.0 L454.8 291.0 L454.5 292.0 L454.2 293.0 L453.9 294.0 L453.5 295.0 L453.1 296.0 L452.7 297.0 L452.3 298.0 L451.9 299.0 L451.5 300.0 L451.0 301.0 L450.6 302.0 L450.1 303.0 L449.7 304.0 L449.2 305.0 L448.8 306.0 L448.3 307.0 L447.9 308.0 L447.4 309.0 L447.0 310.0 L446.5 311.0 L446.1 312.0 L445.7 313.0 L445.2 314.0 L444.8 315.0 L444.4 316.0 L444.1 317.0 L443.7 318.0 L443.4 319.0 L443.0 320.0 L442.7 321.0 L442.4 322.0 L442.2 323.0 L441.9 324.0 L441.7 325.0 L441.5 326.0 L441.3 327.0 L441.2 328.0 L441.0 329.0 L440.9 330.0 L440.9 331.0 L440.8 332.0" fill="none" stroke="#1a1a1a" stroke-width="1.1"/><path d="M473.4 261.0 L473.4 262.0 L473.4 263.0 L473.4 264.0 L473.4 265.0 L473.4 266.0 L473.4 267.0 L473.4 268.0 L473.4 269.0 L473.4 270.0 L473.4 271.0 L473.4 272.0 L473.4 273.0 L473.4 274.0 L473.4 275.0 L473.4 276.0 L473.4 277.0 L473.4 278.0 L473.4 279.0 L473.4 280.0 L473.4 281.0 L473.4 282.0 L473.4 283.0 L473.4 284.0 L473.3 285.0 L473.3 286.0 L473.2 287.0 L473.0 288.0 L472.9 289.0 L472.7 290.0 L472.5 291.0 L472.3 292.0 L472.0 293.0 L471.8 294.0 L471.5 295.0 L471.2 296.0 L470.8 297.0 L470.5 298.0 L470.1 299.0 L469.8 300.0 L469.4 301.0 L469.0 302.0 L468.5 303.0 L468.1 304.0 L467.7 305.0 L467.2 306.0 L466.8 307.0 L466.3 308.0 L465.9 309.0 L465.4 310.0 L465.0 311.0 L464.5 312.0 L464.1 313.0 L463.6 314.0 L463.2 315.0 L462.7 316.0 L462.3 317.0 L461.9 318.0 L461.5 319.0 L461.1 320.0 L460.7 321.0 L460.3 322.0 L460.0 323.0 L459.7 324.0 L459.4 325.0 L459.1 326.0 L458.9 327.0 L458.7 328.0 L458.5 329.0 L458.4 330.0 L458.3 331.0 L458.2 332.0" fill="none" stroke="#1a1a1a" stroke-width="1.1"/><path d="M449.1 306.5h17.4M455.7 287.5h17.4" stroke="#222" stroke-width=".9" fill="none"/><rect class="w" x="441.2" y="332.6" width="16.6" height="6" style="stroke-width:1"/><rect class="w" x="442.4" y="338.6" width="14.2" height="12.5" style="stroke-width:1"/><rect class="w" x="441.3" y="351" width="16.4" height="3.4" style="stroke-width:.9"/><rect class="w" x="434.2" y="354.4" width="14.9" height="15.1" rx="2.6" ry="3" style="stroke-width:1.45"/><rect class="w" x="449.9" y="354.4" width="14.9" height="15.1" rx="2.6" ry="3" style="stroke-width:1.45"/><rect class="w" x="475.8" y="252.7" width="17.4" height="8.3" style="stroke-width:1"/><rect x="0" y="261.0" width="17.40" height="22.3" fill="url(#br)" transform="translate(475.80 0)"/><rect x="0" y="283.0" width="17.40" height="1.25" fill="url(#br)" transform="translate(475.80 0) scale(1.000 1)"/><rect x="0" y="284.0" width="17.40" height="1.25" fill="url(#br)" transform="translate(475.83 0) scale(1.001 1)"/><rect x="0" y="285.0" width="17.40" height="1.25" fill="url(#br)" transform="translate(475.89 0) scale(1.002 1)"/><rect x="0" y="286.0" width="17.40" height="1.25" fill="url(#br)" transform="translate(475.98 0) scale(1.004 1)"/><rect x="0" y="287.0" width="17.40" height="1.25" fill="url(#br)" transform="translate(476.09 0) scale(1.007 1)"/><rect x="0" y="288.0" width="17.40" height="1.25" fill="url(#br)" transform="translate(476.23 0) scale(1.010 1)"/><rect x="0" y="289.0" width="17.40" height="1.25" fill="url(#br)" transform="translate(476.40 0) scale(1.013 1)"/><rect x="0" y="290.0" width="17.40" height="1.25" fill="url(#br)" transform="translate(476.59 0) scale(1.017 1)"/><rect x="0" y="291.0" width="17.40" height="1.25" fill="url(#br)" transform="translate(476.81 0) scale(1.021 1)"/><rect x="0" y="292.0" width="17.40" height="1.25" fill="url(#br)" transform="translate(477.05 0) scale(1.025 1)"/><rect x="0" y="293.0" width="17.40" height="1.25" fill="url(#br)" transform="translate(477.32 0) scale(1.029 1)"/><rect x="0" y="294.0" width="17.40" height="1.25" fill="url(#br)" transform="translate(477.60 0) scale(1.033 1)"/><rect x="0" y="295.0" width="17.40" height="1.25" fill="url(#br)" transform="translate(477.90 0) scale(1.036 1)"/><rect x="0" y="296.0" width="17.40" height="1.25" fill="url(#br)" transform="translate(478.23 0) scale(1.040 1)"/><rect x="0" y="297.0" width="17.40" height="1.25" fill="url(#br)" transform="translate(478.57 0) scale(1.044 1)"/><rect x="0" y="298.0" width="17.40" height="1.25" fill="url(#br)" transform="translate(478.93 0) scale(1.047 1)"/><rect x="0" y="299.0" width="17.40" height="1.25" fill="url(#br)" transform="translate(479.31 0) scale(1.051 1)"/><rect x="0" y="300.0" width="17.40" height="1.25" fill="url(#br)" transform="translate(479.70 0) scale(1.054 1)"/><rect x="0" y="301.0" width="17.40" height="1.25" fill="url(#br)" transform="translate(480.10 0) scale(1.056 1)"/><rect x="0" y="302.0" width="17.40" height="1.25" fill="url(#br)" transform="translate(480.52 0) scale(1.059 1)"/><rect x="0" y="303.0" width="17.40" height="1.25" fill="url(#br)" transform="translate(480.95 0) scale(1.061 1)"/><rect x="0" y="304.0" width="17.40" height="1.25" fill="url(#br)" transform="translate(481.39 0) scale(1.062 1)"/><rect x="0" y="305.0" width="17.40" height="1.25" fill="url(#br)" transform="translate(481.84 0) scale(1.064 1)"/><rect x="0" y="306.0" width="17.40" height="1.25" fill="url(#br)" transform="translate(482.29 0) scale(1.064 1)"/><rect x="0" y="307.0" width="17.40" height="1.25" fill="url(#br)" transform="translate(482.75 0) scale(1.065 1)"/><rect x="0" y="308.0" width="17.40" height="1.25" fill="url(#br)" transform="translate(483.22 0) scale(1.065 1)"/><rect x="0" y="309.0" width="17.40" height="1.25" fill="url(#br)" transform="translate(483.69 0) scale(1.064 1)"/><rect x="0" y="310.0" width="17.40" height="1.25" fill="url(#br)" transform="translate(484.16 0) scale(1.064 1)"/><rect x="0" y="311.0" width="17.40" height="1.25" fill="url(#br)" transform="translate(484.62 0) scale(1.062 1)"/><rect x="0" y="312.0" width="17.40" height="1.25" fill="url(#br)" transform="translate(485.09 0) scale(1.061 1)"/><rect x="0" y="313.0" width="17.40" height="1.25" fill="url(#br)" transform="translate(485.56 0) scale(1.059 1)"/><rect x="0" y="314.0" width="17.40" height="1.25" fill="url(#br)" transform="translate(486.01 0) scale(1.056 1)"/><rect x="0" y="315.0" width="17.40" height="1.25" fill="url(#br)" transform="translate(486.47 0) scale(1.054 1)"/><rect x="0" y="316.0" width="17.40" height="1.25" fill="url(#br)" transform="translate(486.91 0) scale(1.051 1)"/><rect x="0" y="317.0" width="17.40" height="1.25" fill="url(#br)" transform="translate(487.34 0) scale(1.047 1)"/><rect x="0" y="318.0" width="17.40" height="1.25" fill="url(#br)" transform="translate(487.76 0) scale(1.044 1)"/><rect x="0" y="319.0" width="17.40" height="1.25" fill="url(#br)" transform="translate(488.17 0) scale(1.040 1)"/><rect x="0" y="320.0" width="17.40" height="1.25" fill="url(#br)" transform="translate(488.56 0) scale(1.036 1)"/><rect x="0" y="321.0" width="17.40" height="1.25" fill="url(#br)" transform="translate(488.93 0) scale(1.033 1)"/><rect x="0" y="322.0" width="17.40" height="1.25" fill="url(#br)" transform="translate(489.29 0) scale(1.029 1)"/><rect x="0" y="323.0" width="17.40" height="1.25" fill="url(#br)" transform="translate(489.62 0) scale(1.025 1)"/><rect x="0" y="324.0" width="17.40" height="1.25" fill="url(#br)" transform="translate(489.93 0) scale(1.021 1)"/><rect x="0" y="325.0" width="17.40" height="1.25" fill="url(#br)" transform="translate(490.21 0) scale(1.017 1)"/><rect x="0" y="326.0" width="17.40" height="1.25" fill="url(#br)" transform="translate(490.47 0) scale(1.013 1)"/><rect x="0" y="327.0" width="17.40" height="1.25" fill="url(#br)" transform="translate(490.69 0) scale(1.010 1)"/><rect x="0" y="328.0" width="17.40" height="1.25" fill="url(#br)" transform="translate(490.89 0) scale(1.007 1)"/><rect x="0" y="329.0" width="17.40" height="1.25" fill="url(#br)" transform="translate(491.04 0) scale(1.004 1)"/><rect x="0" y="330.0" width="17.40" height="1.25" fill="url(#br)" transform="translate(491.17 0) scale(1.002 1)"/><rect x="0" y="331.0" width="17.40" height="1.25" fill="url(#br)" transform="translate(491.25 0) scale(1.001 1)"/><rect x="0" y="332.0" width="17.40" height="0.60" fill="url(#br)" transform="translate(491.29 0) scale(1.000 1)"/><path d="M475.8 261.0 L475.8 262.0 L475.8 263.0 L475.8 264.0 L475.8 265.0 L475.8 266.0 L475.8 267.0 L475.8 268.0 L475.8 269.0 L475.8 270.0 L475.8 271.0 L475.8 272.0 L475.8 273.0 L475.8 274.0 L475.8 275.0 L475.8 276.0 L475.8 277.0 L475.8 278.0 L475.8 279.0 L475.8 280.0 L475.8 281.0 L475.8 282.0 L475.8 283.0 L475.8 284.0 L475.9 285.0 L475.9 286.0 L476.0 287.0 L476.2 288.0 L476.3 289.0 L476.5 290.0 L476.7 291.0 L476.9 292.0 L477.2 293.0 L477.5 294.0 L477.7 295.0 L478.1 296.0 L478.4 297.0 L478.7 298.0 L479.1 299.0 L479.5 300.0 L479.9 301.0 L480.3 302.0 L480.7 303.0 L481.2 304.0 L481.6 305.0 L482.1 306.0 L482.5 307.0 L483.0 308.0 L483.5 309.0 L483.9 310.0 L484.4 311.0 L484.9 312.0 L485.3 313.0 L485.8 314.0 L486.2 315.0 L486.7 316.0 L487.1 317.0 L487.6 318.0 L488.0 319.0 L488.4 320.0 L488.7 321.0 L489.1 322.0 L489.5 323.0 L489.8 324.0 L490.1 325.0 L490.3 326.0 L490.6 327.0 L490.8 328.0 L491.0 329.0 L491.1 330.0 L491.2 331.0 L491.3 332.0" fill="none" stroke="#1a1a1a" stroke-width="1.1"/><path d="M493.2 261.0 L493.2 262.0 L493.2 263.0 L493.2 264.0 L493.2 265.0 L493.2 266.0 L493.2 267.0 L493.2 268.0 L493.2 269.0 L493.2 270.0 L493.2 271.0 L493.2 272.0 L493.2 273.0 L493.2 274.0 L493.2 275.0 L493.2 276.0 L493.2 277.0 L493.2 278.0 L493.2 279.0 L493.2 280.0 L493.2 281.0 L493.2 282.0 L493.2 283.0 L493.2 284.0 L493.3 285.0 L493.4 286.0 L493.5 287.0 L493.7 288.0 L493.9 289.0 L494.2 290.0 L494.4 291.0 L494.7 292.0 L495.0 293.0 L495.4 294.0 L495.8 295.0 L496.1 296.0 L496.5 297.0 L496.9 298.0 L497.4 299.0 L497.8 300.0 L498.3 301.0 L498.7 302.0 L499.2 303.0 L499.6 304.0 L500.1 305.0 L500.6 306.0 L501.0 307.0 L501.5 308.0 L502.0 309.0 L502.4 310.0 L502.9 311.0 L503.3 312.0 L503.8 313.0 L504.2 314.0 L504.6 315.0 L505.0 316.0 L505.4 317.0 L505.8 318.0 L506.1 319.0 L506.4 320.0 L506.8 321.0 L507.0 322.0 L507.3 323.0 L507.6 324.0 L507.8 325.0 L508.0 326.0 L508.2 327.0 L508.3 328.0 L508.5 329.0 L508.6 330.0 L508.6 331.0 L508.7 332.0" fill="none" stroke="#1a1a1a" stroke-width="1.1"/><path d="M482.9 306.5h17.4M476.2 287.5h17.4" stroke="#222" stroke-width=".9" fill="none"/><rect class="w" x="491.7" y="332.6" width="16.6" height="6" style="stroke-width:1"/><rect class="w" x="492.9" y="338.6" width="14.2" height="12.5" style="stroke-width:1"/><rect class="w" x="491.8" y="351" width="16.4" height="3.4" style="stroke-width:.9"/><rect class="w" x="484.7" y="354.4" width="14.9" height="15.1" rx="2.6" ry="3" style="stroke-width:1.45"/><rect class="w" x="500.4" y="354.4" width="14.9" height="15.1" rx="2.6" ry="3" style="stroke-width:1.45"/></g>
<path class="d" d="M422 287.5H446M444.5 262V287.5M492 287.5H504.5M504.2 262V287.7"/>
<path class="a" d="M457.7 287.5l-12.0 -2.3v4.6zM490.7 287.5l11.5 -2.3v4.6z"/>
<g id="txt" opacity="0.999">
<g transform="translate(182.10 216.60) scale(1 0.966)"><use href="#one" transform="translate(0.00 0) scale(1.0250)"/><use href="#one" transform="translate(18.24 0) scale(1.0250)"/><text x="36.47" y="0" font-size="32.8">5</text></g>
<g transform="translate(190.40 320.00) scale(1 0.966)"><use href="#one" transform="translate(0.00 0) scale(1.0250)"/><text x="18.24" y="0" font-size="32.8">50</text></g>
<g transform="translate(385.30 299.00) scale(1 0.966)"><text x="0.00" y="0" font-size="32.8">46</text></g>
<g transform="translate(69.80 163.60) scale(1.035 1) rotate(-90)"><use href="#one" transform="translate(0.00 0) scale(1.0250)"/><text x="18.24" y="0" font-size="32.8">40</text></g>
<g transform="translate(101.20 209.60) scale(1.035 1) rotate(-90)"><text x="0.00" y="0" font-size="32.8">4</text><use href="#one" transform="translate(18.24 0) scale(1.0250)"/></g>
<g transform="translate(70.00 359.90) scale(1.035 1) rotate(-90)"><text x="0.00" y="0" font-size="32.8">Max 430</text></g>
<g transform="translate(567.50 183.60) scale(1.035 1) rotate(-90)"><use href="#one" transform="translate(0.00 0) scale(1.0250)"/><text x="18.84" y="0" font-size="32.8" letter-spacing="0.60">09</text></g>
<g transform="translate(567.50 362.60) scale(1.035 1) rotate(-90)"><use href="#one" transform="translate(0.00 0) scale(1.0250)"/><text x="18.24" y="0" font-size="32.8">0~</text><use href="#one" transform="translate(55.63 0) scale(1.0250)"/><text x="73.87" y="0" font-size="32.8">5</text></g>
</g>
</svg>
</body></html>
